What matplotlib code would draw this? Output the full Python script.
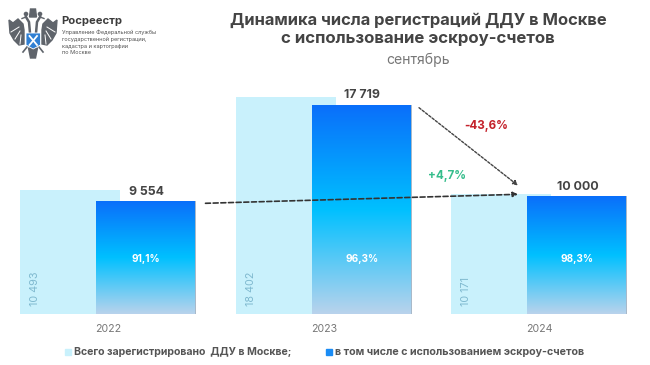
import numpy as np
import matplotlib
matplotlib.use('Agg')
import matplotlib.pyplot as plt
from matplotlib.colors import LinearSegmentedColormap
from matplotlib.patches import Polygon, Rectangle, Circle

plt.rcParams['font.family'] = ['Inter', 'DejaVu Sans']

years = ['2022', '2023', '2024']
total = [10493, 18402, 10171]
total_labels = ['10 493', '18 402', '10 171']
escrow = [9554, 17719, 10000]
escrow_labels = ['9 554', '17 719', '10 000']
shares = ['91,1%', '96,3%', '98,3%']

W, H = 650, 365
fig = plt.figure(figsize=(W/100, H/100), dpi=100)

# bars axes: baseline at y=314 px, x unit = distance between groups
ax = fig.add_axes([0, (H-314)/H, 1, 314/H])
unit = 215.7
ax.set_xlim(-108/unit, (W-108)/unit)
ax.set_ylim(0, 314/0.0118)
ax.axis('off')

# overlay in pixel coords for text and arrows
ov = fig.add_axes([0, 0, 1, 1], zorder=5)
ov.set_xlim(0, W)
ov.set_ylim(H, 0)
ov.axis('off')
ov.patch.set_alpha(0)

x = np.arange(3)
bw = 100/unit
off = 38/unit
ax.bar(x-off, total, width=bw, color='#c9f1fc', zorder=1)

cmap = LinearSegmentedColormap.from_list('esc', [(0, '#b9d3ec'), (0.5, '#00c0ff'), (1, '#0a6ffa')])
grad = np.linspace(1, 0, 256).reshape(-1, 1)
blue = ax.bar(x+off, escrow, width=bw, color='#a9b9c9', zorder=2)
for b in blue:
    x0, w, h = b.get_x(), b.get_width(), b.get_height()
    ax.imshow(grad, cmap=cmap, vmin=0, vmax=1, extent=[x0, x0+w-0.006, 0, h-50], aspect='auto', zorder=3)
ax.set_xlim(-108/unit, (W-108)/unit)
ax.set_ylim(0, 314/0.0118)

for i in range(3):
    cx = 108 + i*unit
    ov.text(cx, 329, years[i], ha='center', va='center', fontsize=7.6, color='#777777')
    ov.text(cx-73, 306, total_labels[i], rotation=90, ha='center', va='bottom', fontsize=7.8, color='#7fb9cf')
    ty = 314 - escrow[i]*0.0118
    ov.text(cx+38, ty-9.5, escrow_labels[i], ha='center', va='center', fontsize=8.9, fontweight='bold', color='#444444')
    ov.text(cx+38, 258.5, shares[i], ha='center', va='center', fontsize=7.2, fontweight='bold', color='white')

# arrows
ov.annotate('', xy=(518, 194.3), xytext=(205.5, 203.3),
            arrowprops=dict(arrowstyle='-|>', ls=(0, (3, 1.6)), color='#333333', lw=1.2, mutation_scale=7, shrinkA=0, shrinkB=0))
ov.annotate('', xy=(518, 185.5), xytext=(419, 107.7),
            arrowprops=dict(arrowstyle='-|>', ls=(0, (1.8, 1.2)), color='#444444', lw=1, mutation_scale=7, shrinkA=0, shrinkB=0))
ov.text(486, 125.5, '-43,6%', ha='center', va='center', fontsize=8.4, fontweight='bold', color='#c4222b')
ov.text(447, 176, '+4,7%', ha='center', va='center', fontsize=8.4, fontweight='bold', color='#35bd8c')

# titles
ov.text(418, 20, 'Динамика числа регистраций ДДУ в Москве', ha='center', va='center', fontsize=11.9, fontweight='bold', color='#444444')
ov.text(418, 39, 'с использование эскроу-счетов', ha='center', va='center', fontsize=12.1, fontweight='bold', color='#444444')
ov.text(418, 60, 'сентябрь', ha='center', va='center', fontsize=10.1, color='#777777')

# legend
ov.add_patch(Rectangle((65, 349), 6, 6, color='#c9f1fc'))
ov.text(74, 352, 'Всего зарегистрировано  ДДУ в Москве;', ha='left', va='center', fontsize=7.6, fontweight='bold', color='#555555')
ov.add_patch(Rectangle((326, 349), 6, 6, color='#1a8cf5'))
ov.text(335, 352, 'в том числе с использованием эскроу-счетов', ha='left', va='center', fontsize=7.7, fontweight='bold', color='#555555')

# logo text
ov.text(61, 21.5, 'Росреестр', ha='left', va='center', fontsize=8.1, fontweight='bold', color='#3c3c3c')
for yy, s in zip([32.7, 39.3, 46.5, 52.7], ['Управление Федеральной службы', 'государственной регистрации,', 'кадастра и картографии', 'по Москве']):
    ov.text(61.5, yy, s, ha='left', va='center', fontsize=4.05, color='#555555')

# emblem, rough shapes
grey = '#5f646b'
mx = 33
for s in [-1, 1]:
    # wing body as offsets from the middle, then white cuts for the feathers
    wing = [(24, 20), (20, 23), (15, 19), (10, 24), (9, 30), (9, 44), (14, 45), (19, 40), (23, 33)]
    ov.add_patch(Polygon([(mx+s*a, b) for a, b in wing], color=grey))
    for a0, b0, a1, b1 in [(14, 27, 22, 32), (13, 31, 18, 39), (12, 35, 13, 44)]:
        ov.plot([mx+s*a0, mx+s*a1], [b0, b1], color='white', lw=0.7)
    # neck and head
    ov.plot([mx+s*3, mx+s*4, mx+s*7], [33, 22, 17], color=grey, lw=1.8)
    ov.plot([mx+s*7, mx+s*11], [17, 18.5], color=grey, lw=1.0)
    ov.add_patch(Circle((mx+s*7, 14), 1.6, color=grey))
    # legs
    ov.plot([mx+s*6, mx+s*10], [47, 52], color=grey, lw=1.2)
ov.add_patch(Polygon([(30.5, 9), (35.5, 9), (36.5, 17), (29.5, 17)], color=grey))
ov.add_patch(Polygon([(28.5, 48), (37.5, 48), (35.5, 58), (30.5, 58)], color=grey))
ov.add_patch(Polygon([(26, 33), (40.5, 33), (40.5, 45), (33.2, 49), (26, 45)], color='#2f7fd3', ec='white', lw=0.6, zorder=4))
ov.plot([29.5, 37], [36, 45], color='white', lw=1.3, zorder=5)
ov.plot([37, 29.5], [36, 45], color='white', lw=1.3, zorder=5)

fig.savefig('out.png', dpi=100)
